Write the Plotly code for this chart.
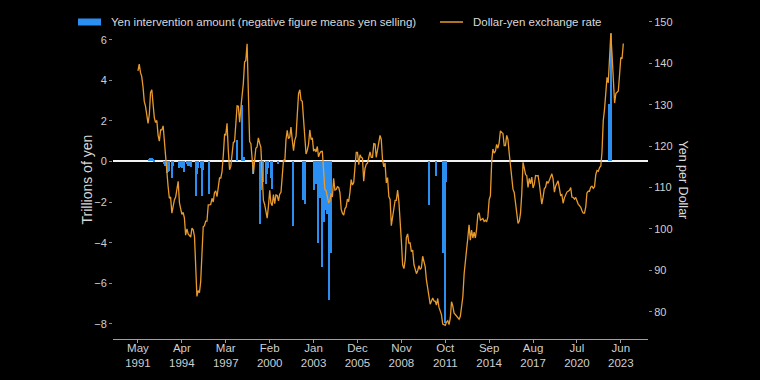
import pandas as pd
import plotly.graph_objects as go

# ---------------- data ----------------
rate_start = "1991-05-01"
usdjpy = [
    138.2, 139.8, 137.8, 136.8, 134.3, 130.8, 129.6, 128.0,
    125.5, 127.7, 132.9, 133.6, 130.5, 126.9, 125.7, 126.2, 122.6, 121.2, 123.9, 123.9,
    124.9, 120.8, 117.0, 112.4, 110.3, 107.4, 107.7, 103.8, 105.7, 107.0, 107.7, 109.7,
    111.5, 106.3, 105.1, 103.5, 104.0, 102.7, 98.5, 100.0, 98.8, 98.4, 98.0, 100.2,
    99.8, 98.2, 90.8, 83.7, 85.1, 84.6, 87.2, 94.6, 100.5, 100.8, 101.9, 101.9,
    105.8, 105.8, 105.9, 107.4, 106.5, 108.8, 109.2, 107.8, 109.8, 112.3, 112.3, 113.9,
    117.9, 122.9, 122.7, 125.5, 119.1, 114.3, 115.1, 117.9, 120.9, 121.1, 125.4, 129.7,
    129.6, 125.8, 129.1, 131.8, 135.1, 140.3, 140.7, 144.7, 134.5, 121.1, 120.6, 117.4,
    113.3, 116.7, 119.5, 119.8, 122.0, 120.7, 119.7, 113.2, 106.9, 105.9, 104.6, 102.6,
    105.5, 109.3, 106.3, 105.6, 108.3, 106.1, 108.2, 108.1, 106.8, 108.4, 108.9, 112.2,
    116.7, 116.2, 121.5, 123.8, 121.8, 122.2, 124.6, 121.5, 118.9, 121.4, 122.4, 127.6,
    132.7, 133.6, 131.1, 130.8, 126.4, 123.3, 118.1, 119.0, 120.5, 123.9, 121.6, 122.0,
    118.8, 119.3, 118.6, 119.9, 117.4, 118.3, 118.7, 118.7, 114.8, 109.5, 109.2, 107.7,
    106.3, 106.7, 108.5, 107.7, 112.2, 109.4, 109.5, 110.2, 110.0, 108.8, 104.7, 103.8,
    103.3, 104.9, 105.3, 107.2, 106.6, 108.8, 111.9, 110.6, 111.2, 114.9, 118.5, 118.5,
    115.5, 117.9, 117.3, 117.1, 111.5, 114.6, 115.6, 115.9, 117.2, 118.6, 117.3, 117.3,
    120.6, 120.5, 117.3, 118.8, 120.8, 122.6, 121.6, 116.7, 115.0, 115.9, 111.1, 112.4,
    107.8, 107.1, 100.8, 102.7, 104.4, 106.9, 106.9, 109.4, 106.6, 100.1, 96.9, 91.3,
    90.4, 92.5, 97.9, 98.8, 96.6, 96.6, 94.5, 94.9, 91.4, 90.3, 89.2, 89.9,
    91.1, 90.2, 90.6, 93.4, 91.8, 90.9, 87.7, 85.5, 84.4, 81.8, 82.6, 83.3,
    82.6, 82.5, 81.6, 83.2, 81.1, 80.4, 79.3, 77.0, 76.8, 76.7, 77.5, 77.8,
    76.9, 78.5, 82.4, 81.4, 79.7, 79.3, 78.9, 78.7, 78.2, 78.9, 80.8, 83.6,
    89.1, 93.1, 94.9, 97.8, 101.0, 97.3, 99.7, 97.8, 99.2, 97.8, 100.0, 103.5,
    103.9, 102.1, 102.3, 102.5, 101.8, 102.1, 101.7, 102.9, 107.1, 108.0, 116.2, 119.3,
    118.3, 118.8, 120.4, 119.5, 120.8, 123.7, 123.3, 123.1, 120.1, 120.1, 122.6, 121.6,
    118.2, 115.0, 113.0, 109.6, 108.8, 105.4, 103.9, 101.3, 101.9, 103.8, 108.6, 116.1,
    114.9, 113.1, 112.9, 110.0, 112.2, 110.9, 112.5, 109.9, 110.8, 112.9, 112.8, 112.9,
    110.9, 107.9, 106.0, 107.6, 109.7, 110.1, 111.5, 111.0, 111.9, 112.8, 113.3, 112.0,
    108.9, 110.4, 111.2, 111.6, 109.9, 108.1, 108.3, 106.2, 107.5, 108.2, 108.9, 109.1,
    109.3, 110.0, 107.7, 107.6, 107.2, 107.6, 106.7, 106.0, 105.6, 105.2, 104.4, 103.8,
    103.8, 105.4, 108.7, 109.1, 109.1, 110.1, 110.3, 109.8, 110.2, 113.1, 114.1, 113.9,
    114.8, 115.2, 118.5, 126.2, 128.8, 133.9, 136.6, 135.3, 143.1, 147.1, 142.0, 135.4,
    130.4, 132.7, 133.0, 133.3, 137.1, 141.4, 141.1, 144.8,
]

intervention_months = [
    "1992-02", "1992-03", "1992-04", "1992-05", "1992-06",
    "1993-02", "1993-03", "1993-04", "1993-05", "1993-06", "1993-08", "1993-09",
    "1994-02", "1994-03", "1994-04", "1994-05", "1994-06", "1994-08", "1994-09", "1994-10", "1994-11",
    "1995-03", "1995-04", "1995-05", "1995-07", "1995-08", "1995-09",
    "1996-02",
    "1997-12", "1998-04", "1998-06",
    "1999-01", "1999-06", "1999-07", "1999-09", "1999-11", "1999-12",
    "2000-01", "2000-03", "2000-04", "2000-09",
    "2001-09",
    "2002-05", "2002-06",
    "2003-01", "2003-02", "2003-03", "2003-04", "2003-05", "2003-06", "2003-07", "2003-08",
    "2003-09", "2003-10", "2003-11", "2003-12",
    "2004-01", "2004-02", "2004-03",
    "2010-09", "2011-03", "2011-08", "2011-10", "2011-11",
    "2022-09", "2022-10",
]
intervention_values = [
    0.12, 0.18, 0.17, 0.10, 0.05,
    -0.10, -0.20, -0.55, -0.50, -0.45, -0.80, -0.20,
    -0.30, -0.25, -0.30, -0.30, -0.50, -0.10, -0.20, -0.20, -0.25,
    -1.70, -0.60, -0.30, -0.30, -1.70, -0.40,
    -1.60,
    1.05, 2.80, 0.20,
    -0.60, -3.10, -1.40, -1.00, -1.10, -0.60,
    -0.30, -0.80, -1.35, -0.10,
    -3.20,
    -1.90, -2.10,
    -1.40, -0.90, -1.10, -0.20, -4.00, -1.80, -0.50, -5.20,
    -3.00, -1.60, -2.40, -2.60,
    -6.80, -3.00, -4.50,
    -2.12, -0.69, -4.51, -7.95, -1.02,
    2.84, 6.35,
]

tick_dates = ["1991-05-01", "1994-04-01", "1997-03-01", "2000-02-01", "2003-01-01", "2005-12-01",
              "2008-11-01", "2011-10-01", "2014-09-01", "2017-08-01", "2020-07-01", "2023-06-01"]
tick_months = ["May", "Apr", "Mar", "Feb", "Jan", "Dec", "Nov", "Oct", "Sep", "Aug", "Jul", "Jun"]
tick_years = ["1991", "1994", "1997", "2000", "2003", "2005", "2008", "2011", "2014", "2017", "2020", "2023"]

legend_bar_label = "Yen intervention amount (negative figure means yen selling)"
legend_line_label = "Dollar-yen exchange rate"
left_title = "Trillions of yen"
right_title = "Yen per Dollar"

# ---------------- build ----------------
months = pd.date_range(rate_start, periods=len(usdjpy), freq="MS")
bar_x = pd.to_datetime([m + "-01" for m in intervention_months])

BAR_COLOR = "#2b8ff2"
LINE_COLOR = "#e99a2c"
TEXT = "#d9d9d9"
TICK = "#cfcfcf"
FONT = "Liberation Sans, Arial, sans-serif"

W, H = 760, 380
L, R, T, B = 113, 648, 20, 339   # plot area in pixels


def px(x):
    return (x - L) / (R - L)


def py(y):
    return (B - y) / (B - T)


t0 = pd.Timestamp(rate_start)
month_days = 30.4375
x_range = [t0 - pd.Timedelta(days=19.9 * month_days), t0 + pd.Timedelta(days=406.7 * month_days)]

fig = go.Figure()
fig.add_trace(go.Bar(
    x=bar_x, y=intervention_values, name=legend_bar_label,
    marker=dict(color=BAR_COLOR, line=dict(width=0)),
    width=29 * 86400000, xaxis="x", yaxis="y", showlegend=False,
))
fig.add_trace(go.Scatter(
    x=months, y=usdjpy, name=legend_line_label, mode="lines",
    line=dict(color=LINE_COLOR, width=1.3), xaxis="x2", yaxis="y2", showlegend=False,
))

fig.update_layout(
    width=W, height=H,
    margin=dict(l=L, r=W - R, t=T, b=H - B, pad=0),
    paper_bgcolor="black", plot_bgcolor="black",
    font=dict(family=FONT, color=TICK, size=11),
    bargap=0,
    xaxis=dict(
        type="date", range=x_range, tickvals=tick_dates, ticktext=tick_months,
        showgrid=False, zeroline=False, showline=True, linecolor="#a0a0a0", linewidth=1,
        ticks="outside", ticklen=3, tickcolor="#a0a0a0", tickfont=dict(size=11.5, color=TICK),
        ticklabelstandoff=-5, automargin=False,
    ),
    xaxis2=dict(
        type="date", range=x_range, tickvals=tick_dates, ticktext=tick_years,
        overlaying="x", side="bottom",
        showgrid=False, zeroline=False, showline=False, ticks="",
        tickfont=dict(size=11.5, color=TICK), ticklabelstandoff=15, automargin=False,
    ),
    yaxis=dict(
        range=[-8.744, 6.970], tickvals=[-8, -6, -4, -2, 0, 2, 4, 6],
        ticktext=["\u22128", "\u22126", "\u22124", "\u22122", "0", "2", "4", "6"],
        showgrid=False, zeroline=True, zerolinecolor="#f2f2f2", zerolinewidth=1.5,
        showline=False, ticks="outside", ticklen=3, tickcolor="#8a8a8a",
        tickfont=dict(size=11, color=TICK), automargin=False,
    ),
    yaxis2=dict(
        range=[73.41, 150.46], overlaying="y", side="right",
        tickvals=[80, 90, 100, 110, 120, 130, 140, 150],
        showgrid=False, zeroline=False, showline=False,
        ticks="outside", ticklen=3, tickcolor="#8a8a8a",
        tickfont=dict(size=11, color=TICK), automargin=False,
    ),
)

# legend (drawn manually to get the wide swatch)
fig.add_shape(type="rect", xref="paper", yref="paper",
              x0=px(78), x1=px(101), y0=py(25.5), y1=py(18.5),
              fillcolor=BAR_COLOR, line=dict(width=0))
fig.add_shape(type="line", xref="paper", yref="paper",
              x0=px(440), x1=px(463), y0=py(22), y1=py(22),
              line=dict(color=LINE_COLOR, width=1.5))
fig.add_annotation(xref="paper", yref="paper", x=px(109), y=py(22), text=legend_bar_label,
                   showarrow=False, xanchor="left", yanchor="middle",
                   font=dict(size=11.5, color=TEXT))
fig.add_annotation(xref="paper", yref="paper", x=px(471), y=py(22), text=legend_line_label,
                   showarrow=False, xanchor="left", yanchor="middle",
                   font=dict(size=11.5, color=TEXT))
# axis titles
fig.add_annotation(xref="paper", yref="paper", x=px(86), y=py(179.5), text=left_title,
                   showarrow=False, textangle=-90, xanchor="center", yanchor="middle",
                   font=dict(size=14, color=TEXT))
fig.add_annotation(xref="paper", yref="paper", x=px(683), y=py(179.5), text=right_title,
                   showarrow=False, textangle=90, xanchor="center", yanchor="middle",
                   font=dict(size=12.5, color=TEXT))

fig.write_html(
    "out.html",
    config={"displayModeBar": False},
    post_script="document.body.style.margin='0';document.body.style.background='black';",
)
